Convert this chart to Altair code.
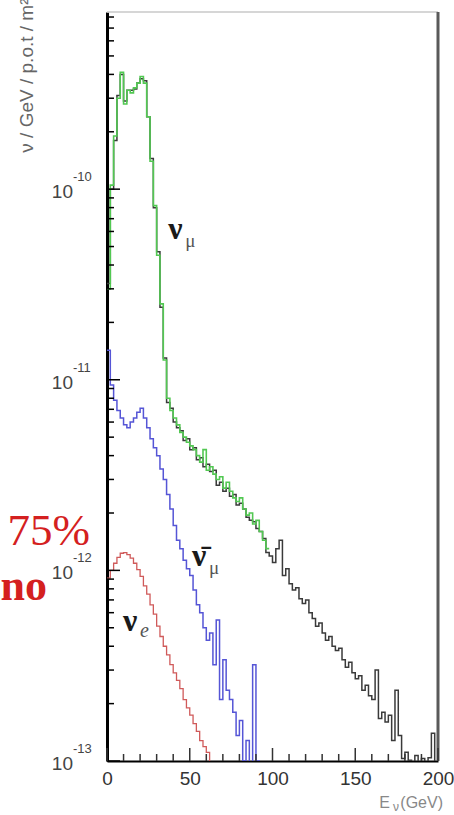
import altair as alt
import pandas as pd

# Neutrino flux spectra, 2 GeV bins starting at E = 0
BIN_GEV = 2.0

# nu_mu, green histogram (0-98 GeV)
numu_green = [3.0e-11, 1.05e-10, 1.9e-10, 3.0e-10, 4.1e-10, 2.8e-10, 3.3e-10, 3.2e-10,
              3.4e-10, 3.6e-10, 3.9e-10, 3.6e-10, 2.4e-10, 1.4e-10, 8.2e-11, 4.5e-11,
              2.5e-11, 1.27e-11, 8.0e-12, 6.9e-12, 6.3e-12, 5.8e-12, 5.3e-12, 5.0e-12,
              4.7e-12, 4.5e-12, 4.3e-12, 4.0e-12, 3.7e-12, 4.3e-12, 3.35e-12, 3.5e-12,
              3.2e-12, 3.0e-12, 3.1e-12, 2.7e-12, 2.9e-12, 2.6e-12, 2.4e-12, 2.3e-12,
              2.4e-12, 2.1e-12, 1.95e-12, 2.0e-12, 1.75e-12, 1.83e-12, 1.6e-12, 1.44e-12,
              1.3e-12]

# nu_mu, black histogram (0-200 GeV)
numu_black = [3.2e-11, 1.0e-10, 1.8e-10, 3.1e-10, 4.0e-10, 2.9e-10, 3.3e-10, 3.3e-10,
              3.35e-10, 3.6e-10, 3.8e-10, 3.7e-10, 2.4e-10, 1.45e-10, 8.0e-11, 4.7e-11,
              2.4e-11, 1.3e-11, 7.6e-12, 7.1e-12, 6.0e-12, 5.6e-12, 5.4e-12, 4.8e-12,
              4.9e-12, 4.3e-12, 4.4e-12, 3.8e-12, 3.9e-12, 3.5e-12, 3.6e-12, 3.3e-12,
              3.35e-12, 2.8e-12, 2.9e-12, 2.6e-12, 2.7e-12, 2.45e-12, 2.5e-12, 2.2e-12,
              2.25e-12, 2.1e-12, 1.9e-12, 1.83e-12, 1.8e-12, 1.66e-12, 1.6e-12, 1.47e-12,
              1.24e-12, 1.19e-12, 1.1e-12, 1.3e-12, 1.44e-12, 9.4e-13, 1.02e-12, 8.5e-13,
              7.9e-13, 8.1e-13, 7.1e-13, 6.7e-13, 7.0e-13, 6.0e-13, 5.6e-13, 5.1e-13,
              5.3e-13, 4.7e-13, 4.3e-13, 4.5e-13, 4.0e-13, 3.8e-13, 3.9e-13, 3.4e-13,
              3.1e-13, 3.3e-13, 2.9e-13, 2.7e-13, 2.8e-13, 2.35e-13, 2.5e-13, 2.2e-13,
              2.1e-13, 3.0e-13, 1.67e-13, 1.8e-13, 1.6e-13, 1.74e-13, 1.28e-13, 2.35e-13,
              1.36e-13, 1.03e-13, 1.11e-13, 1.01e-13, 0.95e-13, 1.07e-13, 0.98e-13, 1.03e-13,
              0.91e-13, 1.04e-13, 1.4e-13, 0.9e-13]

# anti nu_mu, blue histogram (0-96 GeV)
anumu_blue = [1.43e-11, 9.4e-12, 7.8e-12, 6.9e-12, 6.3e-12, 5.8e-12, 5.6e-12, 6.0e-12,
              6.3e-12, 6.75e-12, 7.1e-12, 6.3e-12, 5.6e-12, 4.9e-12, 4.4e-12, 4.0e-12,
              3.4e-12, 3.0e-12, 2.5e-12, 2.1e-12, 1.72e-12, 1.44e-12, 1.3e-12, 1.13e-12,
              1.02e-12, 9.4e-13, 7.9e-13, 6.6e-13, 6.0e-13, 5.0e-13, 4.3e-13, 4.7e-13,
              3.2e-13, 5.5e-13, 2.1e-13, 3.4e-13, 2.35e-13, 2.1e-13, 1.8e-13, 1.36e-13,
              1.63e-13, 1.0e-13, 1.28e-13, 0.9e-13, 3.2e-13, 1.0e-13, 0.9e-13, 0.85e-13]

# nu_e, red histogram (0-64 GeV)
nue_red = [9.1e-13, 1.0e-12, 1.09e-12, 1.17e-12, 1.23e-12, 1.24e-12, 1.21e-12, 1.16e-12,
           1.09e-12, 1.01e-12, 9.3e-13, 8.3e-13, 7.5e-13, 6.6e-13, 5.9e-13, 5.1e-13,
           4.5e-13, 4.0e-13, 3.6e-13, 3.2e-13, 2.9e-13, 2.65e-13, 2.4e-13, 2.1e-13,
           1.9e-13, 1.74e-13, 1.57e-13, 1.43e-13, 1.28e-13, 1.19e-13, 1.11e-13, 0.91e-13]

# axis ticks and labels
decades = [1e-13, 1e-12, 1e-11, 1e-10]
decade_exponents = ["-13", "-12", "-11", "-10"]
minor_mantissas = [2, 3, 4, 5, 6, 7, 8, 9]
x_major = [0, 50, 100, 150, 200]
x_minor = [10, 20, 30, 40, 60, 70, 80, 90, 110, 120, 130, 140, 160, 170, 180, 190]

# curve labels: anchor energy, anchor flux, particle, subscript, subscript style
label_E = [37, 51.4, 9.7]
label_flux = [5.5e-11, 1.06e-12, 4.8e-13]
label_main = ["ν", "ν̄", "ν"]
label_sub = ["μ", "μ", "e"]
label_sub_italic = [False, False, True]

W, H = 331, 749
Y_DOMAIN = [1e-13, 8.5e-10]
Y_MINOR = [m * d for d in decades for m in minor_mantissas if m * d <= Y_DOMAIN[1]]


def histogram(values):
    edges = [i * BIN_GEV for i in range(len(values) + 1)]
    return pd.DataFrame({"E": edges, "flux": list(values) + [values[-1]]})


X = alt.X("E:Q",
          scale=alt.Scale(domain=[0, 200], nice=False, zero=False),
          axis=alt.Axis(values=x_major, title=None, grid=False, ticks=False, tickSize=0,
                        labelFontSize=19, labelColor="#333", labelFont="Liberation Sans",
                        labelPadding=8, labelFlush=False, domainColor="black",
                        domainWidth=2))
Y = alt.Y("flux:Q",
          scale=alt.Scale(type="log", domain=Y_DOMAIN, nice=False),
          axis=alt.Axis(labels=False, ticks=False, tickSize=0, grid=False,
                        domainColor="black", domainWidth=3,
                        title="ν / GeV / p.o.t / m²", titleFont="Liberation Sans",
                        titleFontSize=19, titleFontWeight="normal", titleColor="#666",
                        titleX=-81, titleY=-14, titleAngle=270, titleAlign="right",
                        titleBaseline="middle"))


def step_line(values, color, width=1.5):
    return alt.Chart(histogram(values)).mark_line(
        interpolate="step-after", clip=True, color=color, strokeWidth=width
    ).encode(x=X, y=Y)


black = step_line(numu_black, "#3a3a3a", 1.5)
green = step_line(numu_green, "#52c852", 1.6)
blue = step_line(anumu_blue, "#5555d6", 1.5)
red = step_line(nue_red, "#d05a5a", 1.3)

# inward ticks on the y axis
y_major_ticks = alt.Chart(pd.DataFrame({"flux": decades})).mark_rule(
    color="black", strokeWidth=1.5
).encode(y=Y, x=alt.value(0), x2=alt.value(13))
y_minor_ticks = alt.Chart(pd.DataFrame({"flux": Y_MINOR})).mark_rule(
    color="black", strokeWidth=1.5
).encode(y=Y, x=alt.value(0), x2=alt.value(7))

# inward ticks on the x axis
x_major_ticks = alt.Chart(pd.DataFrame({"E": x_major})).mark_rule(
    color="#333", strokeWidth=1.5
).encode(x=X, y=alt.value(H), y2=alt.value(H - 13))
x_minor_ticks = alt.Chart(pd.DataFrame({"E": x_minor})).mark_rule(
    color="#333", strokeWidth=1.5
).encode(x=X, y=alt.value(H), y2=alt.value(H - 7))

# y-axis decade labels written as 10 with a raised exponent
dec_df = pd.DataFrame({"flux": decades, "exp": decade_exponents})
dec_base = alt.Chart(dec_df).mark_text(
    text="10", align="right", baseline="middle", dy=3,
    font="Liberation Sans", fontSize=19, color="#444"
).encode(y=Y, x=alt.value(-34))
dec_exp = alt.Chart(dec_df).mark_text(
    align="left", baseline="middle", dy=-12,
    font="Liberation Sans", fontSize=13, color="#444"
).encode(y=Y, x=alt.value(-34), text="exp:N")

# frame: light top edge, dark right edge
top_edge = alt.Chart(pd.DataFrame({"k": [0]})).mark_rule(color="#c8c8c8", strokeWidth=1.5).encode(
    x=alt.value(0), x2=alt.value(W), y=alt.value(0))
right_edge = alt.Chart(pd.DataFrame({"k": [0]})).mark_rule(color="#5a5a5a", strokeWidth=3).encode(
    x=alt.value(W), y=alt.value(0), y2=alt.value(H))

# particle labels next to each spectrum
lab_df = pd.DataFrame({"E": label_E, "flux": label_flux, "main": label_main,
                       "sub": label_sub, "italic": label_sub_italic})
lab_main = alt.Chart(lab_df).mark_text(
    align="left", baseline="alphabetic", font="Liberation Serif", fontSize=32,
    fontWeight="bold", color="#1a1a1a"
).encode(x=X, y=Y, text="main:N")
lab_sub_upright = alt.Chart(lab_df).transform_filter("!datum.italic").mark_text(
    align="left", baseline="alphabetic", dx=17, dy=8, font="Liberation Serif",
    fontSize=19, color="#555"
).encode(x=X, y=Y, text="sub:N")
lab_sub_italic = alt.Chart(lab_df).transform_filter("datum.italic").mark_text(
    align="left", baseline="alphabetic", dx=17, dy=6, font="Liberation Serif",
    fontSize=20, fontStyle="italic", color="#555"
).encode(x=X, y=Y, text="sub:N")

# x-axis title E_nu (GeV)
xt_paren = alt.Chart(pd.DataFrame({"k": [0]})).mark_text(
    text="(GeV)", align="right", baseline="alphabetic", font="Liberation Sans",
    fontSize=16, color="#888"
).encode(x=alt.value(336), y=alt.value(796))
xt_nu = alt.Chart(pd.DataFrame({"k": [0]})).mark_text(
    text="ν", align="right", baseline="alphabetic", font="Liberation Sans",
    fontSize=12, color="#888"
).encode(x=alt.value(292), y=alt.value(799))
xt_e = alt.Chart(pd.DataFrame({"k": [0]})).mark_text(
    text="E", align="right", baseline="alphabetic", font="Liberation Sans",
    fontSize=16, color="#888"
).encode(x=alt.value(283), y=alt.value(796))

# red note on the left margin
note_75 = alt.Chart(pd.DataFrame({"k": [0]})).mark_text(
    text="75%", align="right", baseline="alphabetic", font="Liberation Serif",
    fontSize=45, color="#d42020"
).encode(x=alt.value(-17), y=alt.value(533))
note_no = alt.Chart(pd.DataFrame({"k": [0]})).mark_text(
    text="no", align="right", baseline="alphabetic", font="Liberation Serif",
    fontSize=44, fontWeight="bold", color="#d42020"
).encode(x=alt.value(-60), y=alt.value(588))

chart = alt.layer(
    top_edge, right_edge,
    black, green, blue, red,
    y_major_ticks, y_minor_ticks, x_major_ticks, x_minor_ticks,
    dec_base, dec_exp,
    lab_main, lab_sub_upright, lab_sub_italic,
    xt_e, xt_nu, xt_paren,
    note_75, note_no,
).properties(
    width=W, height=H,
    autosize=alt.AutoSizeParams(type="none"),
    padding={"left": 107, "top": 12, "right": 16, "bottom": 54},
    background="white",
).configure_view(stroke=None)

chart.save("out.html", embed_options={"renderer": "svg", "actions": False})
